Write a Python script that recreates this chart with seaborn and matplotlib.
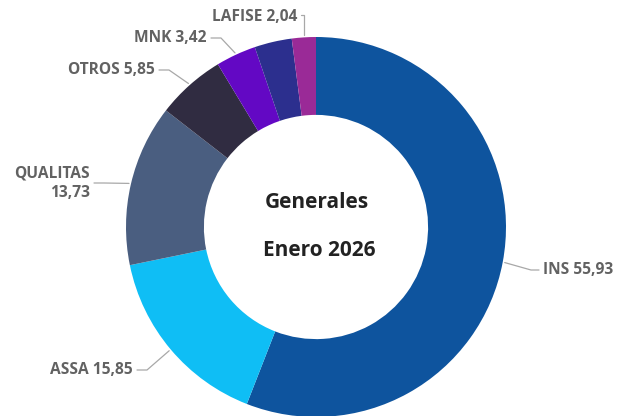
import numpy as np
import matplotlib
matplotlib.use("Agg")
import matplotlib.pyplot as plt
import seaborn as sns

# ---- data ----
categories = ["INS", "ASSA", "QUALITAS", "OTROS", "MNK", "", "LAFISE"]
values = [55.93, 15.85, 13.73, 5.85, 3.42, 3.18, 2.04]
label_texts = ["INS 55,93", "ASSA 15,85", "QUALITAS\n13,73", "OTROS 5,85",
               "MNK 3,42", "", "LAFISE 2,04"]
colors = ["#0E549E", "#0FBEF5", "#4A5E80", "#302C41", "#6308C4", "#2C2F8E", "#9A2A97"]
center_title = ["Generales", "Enero 2026"]

sns.set_theme(style="white")
plt.rcParams["font.family"] = ["Open Sans", "DejaVu Sans"]

W, H = 626, 416
fig = plt.figure(figsize=(W / 100, H / 100), dpi=100)
ax = fig.add_axes([0, 0, 1, 1])

cx, cy, R = 316, 416 - 227, 190
wedges, _ = ax.pie(values, colors=colors, startangle=90, counterclock=False,
                   center=(cx, cy), radius=R, frame=True,
                   wedgeprops=dict(width=R * 0.41, edgecolor="none"))
ax.set_xlim(0, W)
ax.set_ylim(0, H)
ax.set_aspect("equal")
ax.axis("off")

# label layout: (text x, text y in pixel-from-top, ha)
layout = {
    0: (543, 270, "left"),
    1: (133, 370, "right"),
    2: (90, 183, "right"),
    3: (155, 70, "right"),
    4: (207, 38, "right"),
    6: (297, 17, "right"),
}
line_c = "#A8A8A8"
txt_c = "#626262"
for i, w in enumerate(wedges):
    if i not in layout:
        continue
    tx, ty, ha = layout[i]
    ty = H - ty
    ang = np.deg2rad((w.theta1 + w.theta2) / 2)
    ex, ey = cx + (R + 2) * np.cos(ang), cy + (R + 2) * np.sin(ang)
    gap = 4
    if ha == "left":
        hx = tx - gap
        kx = hx - 8
    else:
        hx = tx + gap
        kx = hx + 10
    if i == 6:
        ax.plot([hx, ex, ex], [ty + 2, ty + 2, ey], color=line_c, lw=0.9)
    else:
        ax.plot([ex, kx, hx], [ey, ty, ty], color=line_c, lw=0.9)
    ax.text(tx, ty, label_texts[i], ha=ha, va="center", color=txt_c,
            fontsize=11.2, fontweight="bold", linespacing=1.3)

ax.text(cx + 1, H - 203, center_title[0], ha="center", va="center",
        fontsize=15, fontweight="bold", color="#222222")
ax.text(cx + 3, H - 250, center_title[1], ha="center", va="center",
        fontsize=15, fontweight="bold", color="#222222")

fig.savefig("out.png", dpi=100, facecolor="white")
